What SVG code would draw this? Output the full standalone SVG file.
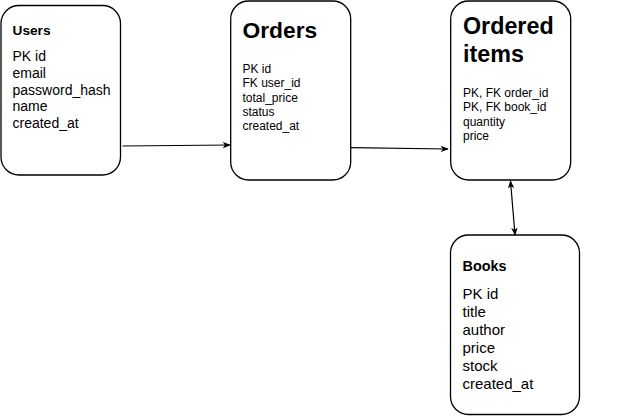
<svg xmlns="http://www.w3.org/2000/svg" width="641" height="416" viewBox="0 0 641 416">
<style>
.box{fill:#fff;stroke:#000;stroke-width:1.3}
text{font-family:"Liberation Sans",Arial,sans-serif;fill:#000}
.t{font-weight:bold}
.c{stroke:#000;stroke-width:1.2;fill:none}
</style>
<defs>
<marker id="ah" viewBox="0 0 10 10" refX="9" refY="5" markerWidth="8" markerHeight="8" markerUnits="userSpaceOnUse" orient="auto-start-reverse">
<path d="M0,1 L10,5 L0,9 L2.5,5 Z" fill="#000"/>
</marker>
</defs>
<rect width="641" height="416" fill="#fff"/>
<g id="connectors">
<line class="c" x1="122.5" y1="146" x2="230" y2="145" marker-end="url(#ah)"/>
<line class="c" x1="351" y1="147.7" x2="448" y2="149" marker-end="url(#ah)"/>
<line class="c" x1="510.5" y1="181" x2="515" y2="235" marker-start="url(#ah)" marker-end="url(#ah)"/>
</g>
<g id="users">
<rect class="box" x="1" y="5.5" width="119.5" height="169.5" rx="18"/>
<text class="t" x="12.5" y="35" font-size="13.7">Users</text>
<text x="12.5" y="61" font-size="14">PK id</text>
<text x="12.5" y="77.8" font-size="14">email</text>
<text x="12.5" y="94.6" font-size="14">password_hash</text>
<text x="12.5" y="111.4" font-size="14">name</text>
<text x="12.5" y="128.2" font-size="14">created_at</text>
</g>
<g id="orders">
<rect class="box" x="230.7" y="1" width="120" height="179" rx="18"/>
<text class="t" x="242.5" y="38.3" font-size="22.8">Orders</text>
<text x="242.5" y="72.7" font-size="12">PK id</text>
<text x="242.5" y="87.1" font-size="12">FK user_id</text>
<text x="242.5" y="101.5" font-size="12">total_price</text>
<text x="242.5" y="115.9" font-size="12">status</text>
<text x="242.5" y="130.3" font-size="12">created_at</text>
</g>
<g id="ordered-items">
<rect class="box" x="450.7" y="1" width="120" height="179" rx="18"/>
<text class="t" x="463" y="34.3" font-size="23.3">Ordered</text>
<text class="t" x="463" y="62.3" font-size="23.3">items</text>
<text x="463" y="96.7" font-size="12">PK, FK order_id</text>
<text x="463" y="111.1" font-size="12">PK, FK book_id</text>
<text x="463" y="125.5" font-size="12">quantity</text>
<text x="463" y="139.9" font-size="12">price</text>
</g>
<g id="books">
<rect class="box" x="450.5" y="235" width="129" height="179.5" rx="18"/>
<text class="t" x="462.5" y="270.5" font-size="14.4">Books</text>
<text x="462.5" y="298.5" font-size="15">PK id</text>
<text x="462.5" y="316.5" font-size="15">title</text>
<text x="462.5" y="334.5" font-size="15">author</text>
<text x="462.5" y="352.5" font-size="15">price</text>
<text x="462.5" y="370.5" font-size="15">stock</text>
<text x="462.5" y="388.5" font-size="15">created_at</text>
</g>
</svg>
